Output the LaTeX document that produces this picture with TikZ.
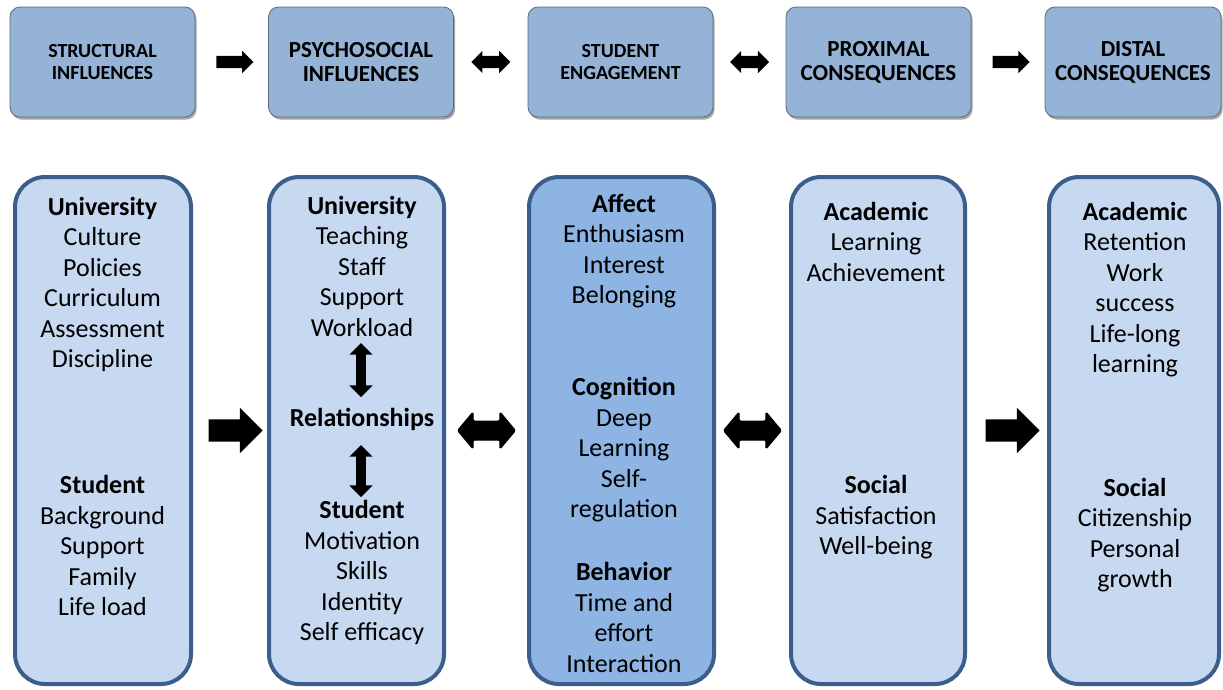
\documentclass[tikz,border=0pt]{standalone}
\usepackage{fontspec}
\setmainfont{Carlito}
\usetikzlibrary{shapes.arrows,shadows,calc}

\definecolor{headfill}{RGB}{149,179,215}
\definecolor{headline}{RGB}{95,105,120}
\definecolor{boxfill}{RGB}{198,217,241}
\definecolor{boxline}{RGB}{59,94,140}
\definecolor{midfill}{RGB}{141,180,226}

\tikzset{
  header/.style={draw=headline, line width=0.8pt, fill=headfill, rounded corners=10pt,
    minimum width=185pt, minimum height=110pt, align=center, inner sep=0pt,
    drop shadow={fill=black, opacity=0.35, shadow xshift=1.5pt, shadow yshift=-2.5pt}},
  smallhead/.style={font=\fontsize{20}{22}\selectfont\bfseries},
  bighead/.style={font=\fontsize{23}{24}\selectfont\bfseries},
  column/.style={draw=boxline, line width=4pt, fill=boxfill, rounded corners=30pt,
    minimum height=507pt, inner sep=0pt},
  entries/.style={align=center, font=\fontsize{26}{30.5}\selectfont, inner sep=0pt},
  toparrow/.style={single arrow, fill=black, inner xsep=0pt, inner ysep=6pt,
    minimum height=37pt, single arrow head extend=5pt},
  topboth/.style={double arrow, fill=black, inner xsep=0pt, inner ysep=6pt,
    minimum height=39pt, double arrow head extend=5pt},
  bigarrow/.style={single arrow, fill=black, inner xsep=0pt, inner ysep=11pt,
    minimum height=54pt, single arrow head extend=11.5pt},
  bigboth/.style={double arrow, fill=black, draw=black, line width=1pt, rounded corners=1.5pt,
    inner xsep=0pt, inner ysep=9pt, minimum height=58pt, double arrow head extend=9pt,
    double arrow tip angle=100},
  upboth/.style={double arrow, fill=black, inner xsep=0pt, inner ysep=4.75pt, rotate=90,
    double arrow head extend=6.75pt},
}

\begin{document}
\begin{tikzpicture}[x=1pt,y=1pt]
    \useasboundingbox (0,0) rectangle (1223,-689);

    % top row
    \node[header, smallhead] (t1) at (102.5,-62) {STRUCTURAL\\INFLUENCES};
    \node[header, bighead] (t2) at (361,-62) {PSYCHOSOCIAL\\INFLUENCES};
    \node[header, smallhead] (t3) at (620.5,-62) {STUDENT\\ENGAGEMENT};
    \node[header, bighead] (t4) at (878.5,-62) {PROXIMAL\\CONSEQUENCES};
    \node[header, bighead, minimum width=176pt] (t5) at (1133,-62) {DISTAL\\CONSEQUENCES};

    \node[toparrow] (ta1) at ($(t1.east)!0.5!(t2.west)$) {};
    \node[topboth] (ta2) at ($(t2.east)!0.5!(t3.west)$) {};
    \node[topboth] (ta3) at ($(t3.east)!0.5!(t4.west)$) {};
    \node[toparrow] (ta4) at ($(t4.east)!0.5!(t5.west)$) {};

    % bottom row
    \node[column, minimum width=176pt] (b1) at (103,-430.5) {};
    \node[column, minimum width=175pt] (b2) at (356.5,-430.5) {};
    \node[column, minimum width=185pt, fill=midfill] (b3) at (621.5,-430.5) {};
    \node[column, minimum width=174pt] (b4) at (878,-430.5) {};
    \node[column, minimum width=170pt] (b5) at (1134,-430.5) {};

    \node[bigarrow] (ba1) at ($(b1.east)!0.5!(b2.west)$) {};
    \node[bigboth] (ba2) at ($(b2.east)!0.5!(b3.west)$) {};
    \node[bigboth] (ba3) at ($(b3.east)!0.5!(b4.west)$) {};
    \node[bigarrow] (ba4) at ($(b4.east)!0.5!(b5.west)$) {};

    % structural
    \node[entries] (struni) at (102.5,-284.5) {\textbf{University}\\Culture\\Policies\\Curriculum\\Assessment\\Discipline};
    \node[entries] (strstu) at (102.5,-545.5) {\textbf{Student}\\Background\\Support\\Family\\Life load};

    % psychosocial
    \node[entries] (psyuni) at (362,-266) {\textbf{University}\\Teaching\\Staff\\Support\\Workload};
    \node[entries] (psyrel) at (362,-419) {\textbf{Relationships}};
    \node[entries] (psystu) at (362,-572.5) {\textbf{Student}\\Motivation\\Skills\\Identity\\Self efficacy};
    \node[upboth, minimum height=54pt] (pa1) at (361,-370) {};
    \node[upboth, minimum height=52pt] (pa2) at (361,-471) {};

    % engagement
    \node[entries] (engaff) at (624,-251) {\textbf{Affect}\\Enthusiasm\\Interest\\Belonging};
    \node[entries] (engcog) at (624,-450) {\textbf{Cognition}\\Deep\\Learning\\Self-\\regulation};
    \node[entries] (engbeh) at (624,-617.5) {\textbf{Behavior}\\Time and\\effort\\Interaction};

    % proximal
    \node[entries] (proaca) at (876,-241.5) {\textbf{Academic}\\Learning\\Achievement};
    \node[entries] (prosoc) at (876,-517.5) {\textbf{Social}\\Satisfaction\\Well-being};

    % distal
    \node[entries] (disaca) at (1135,-289.5) {\textbf{Academic}\\Retention\\Work\\success\\Life-long\\learning};
    \node[entries] (dissoc) at (1135,-535) {\textbf{Social}\\Citizenship\\Personal\\growth};
\end{tikzpicture}
\end{document}
